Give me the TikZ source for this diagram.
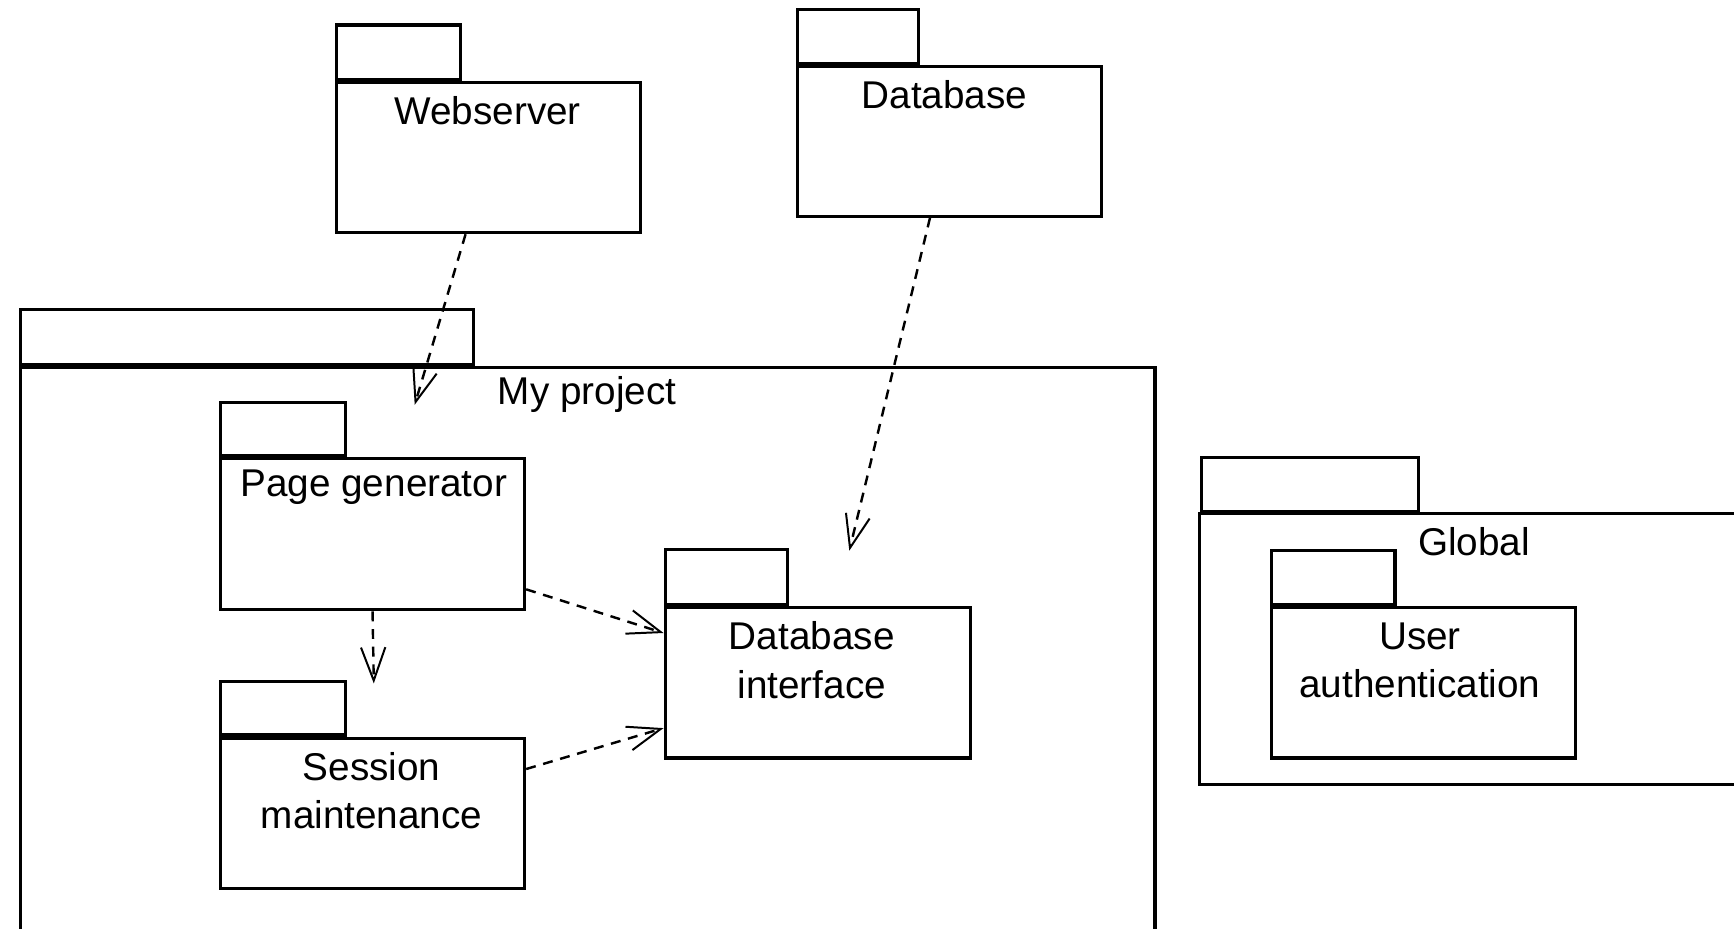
\documentclass[tikz,border=0pt]{standalone}
\usepackage{fontspec}
\setmainfont{Liberation Sans}
\usetikzlibrary{arrows.meta}
\tikzset{
  pkgbody/.style={draw, line width=2.8pt, inner sep=0pt, anchor=north west, fill=white},
  pkgtab/.style={draw, line width=2.8pt, inner sep=0pt, anchor=south west, fill=white},
  lbl/.style={inner sep=0pt, font=\fontsize{35}{44}\selectfont, align=center},
  dep/.style={line width=2.2pt, dash pattern=on 9pt off 7pt,
    -{Straight Barb[length=30pt, width=22pt, line width=1.8pt]}},
  frame/.style={line width=2.8pt}
}
\begin{document}
\begin{tikzpicture}[x=1pt, y=-1pt]
\useasboundingbox (0,0) rectangle (1568,840);
\clip (0,0) rectangle (1568,840);
\fill[white] (0,0) rectangle (1568,840);

% Webserver
\node[pkgbody, minimum width=275pt, minimum height=136pt] (ws) at (303,73) {};
\node[pkgtab, minimum width=112pt, minimum height=49pt] (wstab) at (ws.north west) {};
\node[lbl] (wsl) at (441,100) {Webserver};

% Database
\node[pkgbody, minimum width=275pt, minimum height=135pt] (db) at (720,59) {};
\node[pkgtab, minimum width=109pt, minimum height=49pt] (dbtab) at (db.north west) {};
\node[lbl] (dbl) at (854,86) {Database};

% My project (extends below the picture)
\node[pkgbody, minimum width=1026pt, minimum height=560pt] (mp) at (17,331) {};
\node[pkgtab, minimum width=410pt, minimum height=50pt] (mptab) at (mp.north west) {};
\node[lbl] (mpl) at (531,357) {My project};

% Page generator
\node[pkgbody, minimum width=275pt, minimum height=137pt] (pg) at (198,413) {};
\node[pkgtab, minimum width=113pt, minimum height=48pt] (pgtab) at (pg.north west) {};
\node[lbl] (pgl) at (338,441) {Page generator};

% Session maintenance
\node[pkgbody, minimum width=275pt, minimum height=136pt] (sm) at (198,666) {};
\node[pkgtab, minimum width=113pt, minimum height=48pt] (smtab) at (sm.north west) {};
\node[lbl] (sml) at (336,715) {Session\\maintenance};

% Database interface
\node[pkgbody, minimum width=276pt, minimum height=136pt] (dbi) at (600,548) {};
\node[pkgtab, minimum width=111pt, minimum height=50pt] (dbitab) at (dbi.north west) {};
\node[lbl] (dbil) at (734,597) {Database\\interface};

% Global (open to the right edge)
\coordinate (gl) at (1085,464);
\draw[frame] (1600,464) -- (gl) -- (1085,709) -- (1600,709);
\node[pkgtab, minimum width=196pt, minimum height=49pt] (gltab) at (gl) {};
\node[lbl] (gll) at (1333,490) {Global};

% User authentication
\node[pkgbody, minimum width=275pt, minimum height=136pt] (ua) at (1148,548) {};
\node[pkgtab, minimum width=112pt, minimum height=49pt] (uatab) at (ua.north west) {};
\node[lbl] (ual) at (1284,597) {User\\authentication};

% dependency end points
\coordinate (t1) at (375,366);
\coordinate (t2) at (768,498);
\coordinate (t3) at (338,618);

\draw[dep] ([xshift=118pt]ws.south west) -- (t1);
\draw[dep] ([xshift=121pt]db.south west) -- (t2);
\draw[dep] (pg.south) -- (t3);
\draw[dep] ([yshift=-50pt]pg.east) -- ([yshift=45pt]dbi.west);
\draw[dep] ([yshift=40pt]sm.east) -- ([yshift=-41pt]dbi.west);
\end{tikzpicture}
\end{document}
